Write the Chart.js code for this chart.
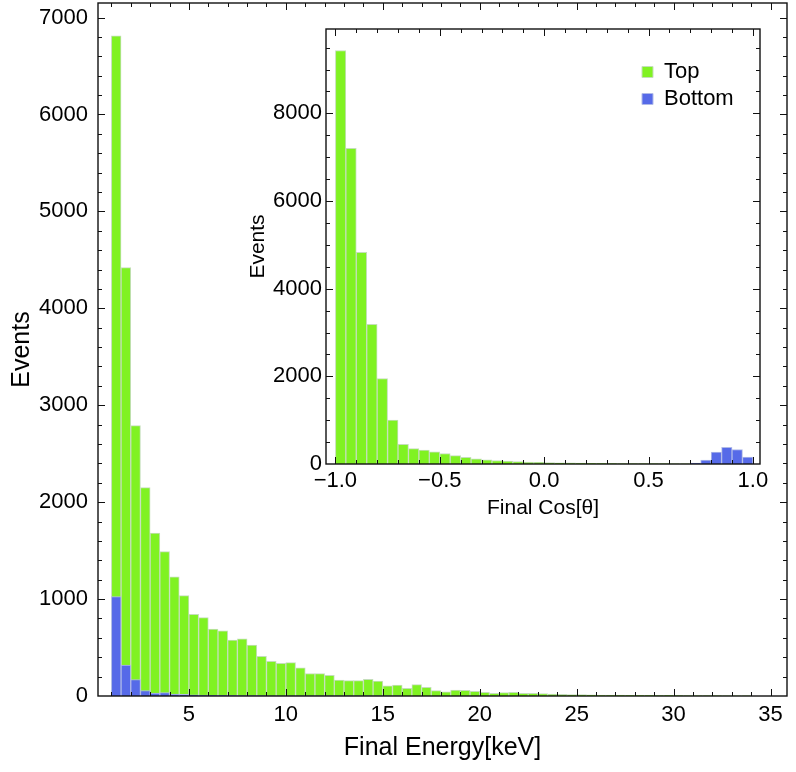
<!DOCTYPE html>
<html><head><meta charset="utf-8">
<script src="https://cdn.jsdelivr.net/npm/chart.js@4.4.1/dist/chart.umd.min.js"></script>
<style>
html,body{margin:0;padding:0;background:#fff;}
#wrap{position:relative;width:796px;height:772px;background:#fff;}
#main{position:absolute;left:0;top:0;}
#inset{position:absolute;left:230px;top:10px;}
</style></head><body>
<div id="wrap">
<canvas id="main" width="796" height="772"></canvas>
<canvas id="inset" width="545" height="520"></canvas>
</div>
<script>
// ---------- DATA ----------
const energyBinCenters = [1.25,1.75,2.25,2.75,3.25,3.75,4.25,4.75,5.25,5.75,
  6.25,6.75,7.25,7.75,8.25,8.75,9.25,9.75,10.25,10.75,
  11.25,11.75,12.25,12.75,13.25,13.75,14.25,14.75,15.25,15.75,
  16.25,16.75,17.25,17.75,18.25,18.75,19.25,19.75,20.25,20.75,
  21.25,21.75,22.25,22.75,23.25,23.75,24.25,24.75,25.25,25.75,
  26.25,26.75,27.25,27.75,28.25,28.75,29.25,29.75,30.25,30.75,
  31.25,31.75,32.25,32.75,33.25,33.75];
const energyTop = [6810,4420,2790,2150,1680,1490,1230,1035,843,808,
  690,672,578,591,526,410,358,337,344,290,
  232,231,212,165,158,158,172,155,106,113,
  80,117,90,55,44,62,58,48,38,27,
  34,38,27,27,24,20,16,15,14,12,
  10,9,9,8,7,7,6,8,6,5,
  5,4,4,3,3,2];
const energyBottom = [1025,320,170,57,30,35,20,16,12,10,
  8,7,6,5,5,4,3,3,3,2,
  2,2,2,1,1,1,1,1,1,1,
  0,0,0,0,0,0,0,0,0,0,
  0,0,0,0,0,0,0,0,0,0,
  0,0,0,0,0,0,0,0,0,0,
  0,0,0,0,0,0];
const energyXTicks = [5,10,15,20,25,30,35];
const energyYTicks = [0,1000,2000,3000,4000,5000,6000,7000];

const cosBinCenters = [-0.975,-0.925,-0.875,-0.825,-0.775,-0.725,-0.675,-0.625,-0.575,-0.525,
  -0.475,-0.425,-0.375,-0.325,-0.275,-0.225,-0.175,-0.125,-0.075,-0.025,
  0.025,0.075,0.125,0.175,0.225,0.275,0.325,0.375,0.425,0.475,
  0.525,0.575,0.625,0.675,0.725,0.775,0.825,0.875,0.925,0.975];
const cosTop = [9435,7205,4827,3189,1950,1000,450,350,320,280,
  240,190,150,120,95,80,65,55,45,40,
  32,28,24,20,18,15,13,12,10,9,
  8,7,6,5,5,4,3,3,2,2];
const cosBottom = [0,0,0,0,0,0,0,0,0,0,
  0,0,0,0,0,0,0,0,0,0,
  0,0,0,0,0,0,0,0,0,0,
  0,0,0,0,20,90,270,380,330,160];
const cosXTicks = [-1,-0.5,0,0.5,1];
const cosXTickLabels = ['\u22121.0','\u22120.5','0.0','0.5','1.0'];
const cosYTicks = [0,2000,4000,6000,8000];

// ---------- STYLE ----------
const GREEN = 'rgb(128,242,34)';
const GREEN_EDGE = 'rgb(196,222,186)';
const BLUE = 'rgb(86,106,232)';
const BLUE_EDGE = 'rgb(176,186,232)';
const FONT = "'Liberation Sans', Arial, sans-serif";
const SZ_TICK = 22;
const SZ_MAIN_TITLE = 25;
const SZ_INSET_TITLE = 21;
const SZ_LEGEND = 22;
Chart.defaults.font.family = FONT;
Chart.defaults.color = '#000';

const isMult = (v, s) => Math.abs(v / s - Math.round(v / s)) < 1e-6;

const frameTicks = {
  id: 'frameTicks',
  afterDatasetsDraw(chart, args, o) {
    const ctx = chart.ctx, a = chart.chartArea, xs = chart.scales.x, ys = chart.scales.y;
    ctx.save();
    ctx.strokeStyle = '#111';
    ctx.lineWidth = 1;
    const line = (x1, y1, x2, y2) => { ctx.beginPath(); ctx.moveTo(x1, y1); ctx.lineTo(x2, y2); ctx.stroke(); };
    for (let k = 0; ; k++) {
      const v = o.xStart + k * o.xMinor;
      if (v > xs.max + 1e-9) break;
      const px = Math.round(xs.getPixelForValue(v)) + 0.5;
      if (px < a.left || px > a.right) continue;
      const L = isMult(v, o.xMajor) ? o.majorLen : o.minorLen;
      line(px, a.bottom, px, a.bottom - L);
      line(px, a.top, px, a.top + L);
    }
    for (let k = 0; ; k++) {
      const v = o.yStart + k * o.yMinor;
      if (v > ys.max + 1e-9) break;
      const py = Math.round(ys.getPixelForValue(v)) + 0.5;
      if (py < a.top || py > a.bottom) continue;
      const L = isMult(v, o.yMajor) ? o.majorLen : o.minorLen;
      line(a.left, py, a.left + L, py);
      line(a.right, py, a.right - L, py);
    }
    ctx.lineWidth = 1.4;
    ctx.strokeRect(a.left, a.top, a.right - a.left, a.bottom - a.top);
    ctx.restore();
  }
};

const legendPlace = {
  id: 'legendPlace',
  beforeDraw(chart, args, o) {
    const lg = chart.legend;
    if (!lg || !o.enabled) return;
    const a = chart.chartArea;
    const w = lg.width, h = lg.height;
    lg.left = a.left + o.dx; lg.right = lg.left + w;
    lg.top = a.top + o.dy; lg.bottom = lg.top + h;
  }
};

function barSet(label, xs, ys, fill, edge, order) {
  return {
    label, order,
    data: xs.map((x, i) => ({ x, y: ys[i] })),
    backgroundColor: fill, borderColor: edge, borderWidth: 1,
    grouped: false, barPercentage: 1, categoryPercentage: 1
  };
}

const noGrid = { display: false, drawTicks: false, tickLength: 0 };

// ---------- MAIN CHART ----------
new Chart(document.getElementById('main'), {
  type: 'bar',
  data: { datasets: [
    barSet('Top', energyBinCenters, energyTop, GREEN, GREEN_EDGE, 1),
    barSet('Bottom', energyBinCenters, energyBottom, BLUE, BLUE_EDGE, 0)
  ]},
  options: {
    responsive: false, animation: false, devicePixelRatio: 1,
    layout: { padding: { top: 3, right: 9, left: 0, bottom: 0 } },
    plugins: {
      legend: { display: false }, tooltip: { enabled: false },
      frameTicks: { xStart: 1, xMinor: 1, xMajor: 5, yStart: 0, yMinor: 200, yMajor: 1000, majorLen: 7, minorLen: 4 },
      legendPlace: { enabled: false }
    },
    scales: {
      x: {
        type: 'linear', min: 0.31, max: 35.85, offset: false,
        grid: noGrid, border: { display: false },
        afterBuildTicks: s => { s.ticks = energyXTicks.map(v => ({ value: v })); },
        ticks: { font: { size: SZ_TICK }, color: '#000', padding: 6, maxRotation: 0, autoSkip: false, callback: v => String(v) },
        title: { display: true, text: 'Final Energy[keV]', font: { size: SZ_MAIN_TITLE }, color: '#000', padding: { top: 0, bottom: 9 } },
        afterFit: s => { s.height = 76; s.paddingLeft = 0; s.paddingRight = 0; }
      },
      y: {
        type: 'linear', min: 0, max: 7150,
        grid: noGrid, border: { display: false },
        afterBuildTicks: s => { s.ticks = energyYTicks.map(v => ({ value: v })); },
        ticks: { font: { size: SZ_TICK }, color: '#000', padding: 10, autoSkip: false, callback: v => String(v) },
        title: { display: true, text: 'Events', font: { size: SZ_MAIN_TITLE }, color: '#000', padding: { top: 7, bottom: 0 } },
        afterFit: s => { s.width = 98; s.paddingTop = 0; s.paddingBottom = 0; }
      }
    }
  },
  plugins: [frameTicks, legendPlace]
});

// ---------- INSET CHART ----------
new Chart(document.getElementById('inset'), {
  type: 'bar',
  data: { datasets: [
    barSet('Top', cosBinCenters, cosTop, GREEN, GREEN_EDGE, 1),
    barSet('Bottom', cosBinCenters, cosBottom, BLUE, BLUE_EDGE, 0)
  ]},
  options: {
    responsive: false, animation: false, devicePixelRatio: 1,
    layout: { padding: { top: 19, right: 15, left: 0, bottom: 0 } },
    plugins: {
      tooltip: { enabled: false },
      legend: {
        display: true, position: 'chartArea', align: 'start',
        labels: {
          boxWidth: 11, boxHeight: 11, padding: 5, color: '#000',
          font: { size: SZ_LEGEND, family: FONT },
          sort: (a, b) => a.datasetIndex - b.datasetIndex
        }
      },
      frameTicks: { xStart: -1, xMinor: 0.1, xMajor: 0.5, yStart: 0, yMinor: 500, yMajor: 2000, majorLen: 7, minorLen: 4 },
      legendPlace: { enabled: true, dx: 311, dy: 27 }
    },
    scales: {
      x: {
        type: 'linear', min: -1.045, max: 1.034, offset: false,
        grid: noGrid, border: { display: false },
        afterBuildTicks: s => { s.ticks = cosXTicks.map(v => ({ value: v })); },
        ticks: { font: { size: SZ_TICK }, color: '#000', padding: 4, maxRotation: 0, autoSkip: false,
          callback: (v) => cosXTickLabels[cosXTicks.findIndex(t => Math.abs(t - v) < 1e-9)] },
        title: { display: true, text: 'Final Cos[\u03B8]', font: { size: SZ_INSET_TITLE }, color: '#000', padding: { top: 0, bottom: 9 } },
        afterFit: s => { s.height = 66; s.paddingLeft = 0; s.paddingRight = 0; }
      },
      y: {
        type: 'linear', min: 0, max: 9925,
        grid: noGrid, border: { display: false },
        afterBuildTicks: s => { s.ticks = cosYTicks.map(v => ({ value: v })); },
        ticks: { font: { size: SZ_TICK }, color: '#000', padding: 4, autoSkip: false, callback: v => String(v) },
        title: { display: true, text: 'Events', font: { size: SZ_INSET_TITLE }, color: '#000', padding: { top: 16, bottom: 0 } },
        afterFit: s => { s.width = 96; s.paddingTop = 0; s.paddingBottom = 0; }
      }
    }
  },
  plugins: [frameTicks, legendPlace]
});
</script>
</body></html>
